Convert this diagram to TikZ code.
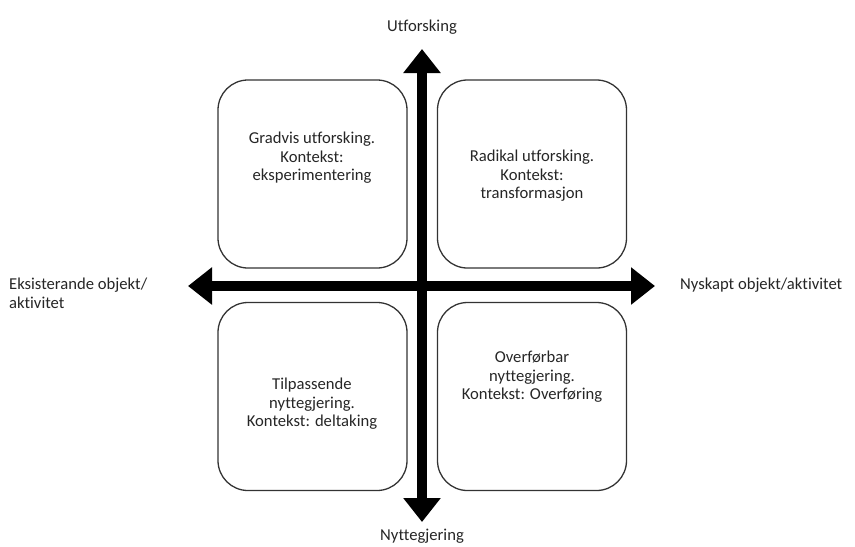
\documentclass[tikz,border=0pt]{standalone}
\usepackage{fontspec}
\setmainfont[Ligatures=NoCommon]{Carlito}
\usetikzlibrary{arrows.meta,positioning}

\begin{document}
\begin{tikzpicture}[
    x=0.03cm, y=-0.03cm,
    quad/.style={draw=black!80, line width=1.1pt, rounded corners=0.9cm, minimum width=5.67cm, minimum height=5.64cm},
    txt/.style={align=center, text=black!85, font=\fontsize{14.2}{15.9}\selectfont},
    axis/.style={{Triangle[length=0.72cm, width=1.08cm]}-{Triangle[length=0.72cm, width=1.08cm]}, line width=0.3cm}
]
\useasboundingbox (0,0) rectangle (855,546);

% kvadrantar
\node[quad] (q1) at (312.5,174) {};
\node[quad] (q2) at (532,174) {};
\node[quad] (q3) at (312.5,396.5) {};
\node[quad] (q4) at (532,396.5) {};

\node[txt] (t1) at (312,158) {Gradvis utforsking.\\Kontekst:\\eksperimentering};
\node[txt] (t2) at (532,176) {Radikal utforsking.\\Kontekst:\\transformasjon};
\node[txt] (t3) at (312,404) {Tilpassende\\nyttegjering.\\Kontekst: deltaking};
\node[txt] (t4) at (532,377) {Overførbar\\nyttegjering.\\Kontekst: Overføring};

% aksar
\coordinate (up) at (422,49);
\coordinate (down) at (422,522);
\coordinate (left) at (188,286);
\coordinate (right) at (655,286);
\draw[axis] (down) -- (up);
\draw[axis] (left) -- (right);

\node[txt] (lup) at (422,27) {Utforsking};
\node[txt] (ldown) at (422,536) {Nyttegjering};
\node[txt, align=left, anchor=west] (lleft) at (5,293) {Eksisterande objekt/\\aktivitet};
\node[txt, anchor=west] (lright) at (676,285) {Nyskapt objekt/aktivitet};
\end{tikzpicture}
\end{document}
